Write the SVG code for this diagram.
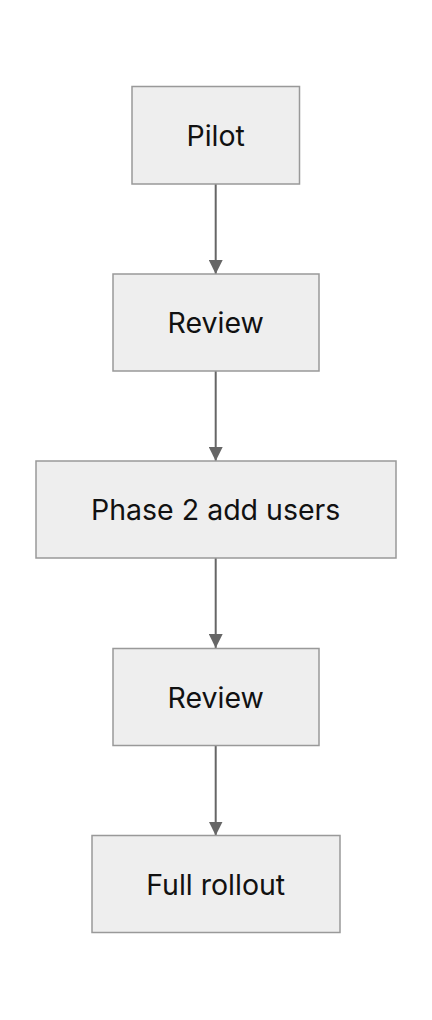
<svg xmlns="http://www.w3.org/2000/svg" width="432" height="1020" viewBox="0 0 432 1020">
<defs>
<marker id="arrow" viewBox="0 0 14 14" refX="14" refY="7" markerWidth="14" markerHeight="14" markerUnits="userSpaceOnUse" orient="auto">
<path d="M0,0 L14,7 L0,14 Z" fill="#666666"/>
</marker>
<style>
.node rect{fill:#eeeeee;stroke:#999999;stroke-width:1.5}
.node text{font-family:Inter,"Noto Sans","Liberation Sans",sans-serif;font-size:28.5px;fill:#111111;text-anchor:middle;dominant-baseline:central}
.edge{stroke:#666666;stroke-width:2;fill:none;marker-end:url(#arrow)}
</style>
</defs>
<rect width="432" height="1020" fill="#ffffff"/>
<g id="connectors">
<line class="edge" x1="215.7" y1="184" x2="215.7" y2="274"/>
<line class="edge" x1="215.7" y1="371" x2="215.7" y2="461"/>
<line class="edge" x1="215.7" y1="558" x2="215.7" y2="648"/>
<line class="edge" x1="215.7" y1="745.5" x2="215.7" y2="835.5"/>
</g>
<g id="node-pilot" class="node">
<rect x="132" y="86.5" width="167.5" height="97.5"/>
<text x="215.7" y="135">Pilot</text>
</g>
<g id="node-review1" class="node">
<rect x="113" y="274" width="206" height="97"/>
<text x="215.7" y="322.5">Review</text>
</g>
<g id="node-phase2" class="node">
<rect x="36" y="461" width="360" height="97"/>
<text x="215.7" y="509.5">Phase 2 add users</text>
</g>
<g id="node-review2" class="node">
<rect x="113" y="648.5" width="206" height="97"/>
<text x="215.7" y="697">Review</text>
</g>
<g id="node-full" class="node">
<rect x="92" y="835.5" width="248" height="97"/>
<text x="215.7" y="884">Full rollout</text>
</g>
</svg>
